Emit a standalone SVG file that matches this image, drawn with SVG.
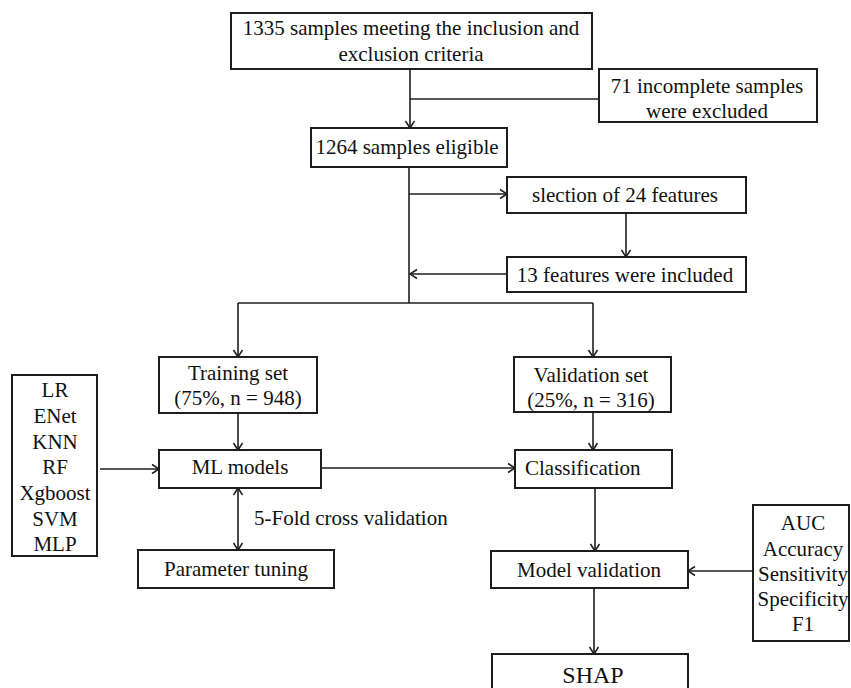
<svg xmlns="http://www.w3.org/2000/svg" width="851" height="688" viewBox="0 0 851 688">
<style>
.box{fill:#fff;stroke:#1e1e1e;stroke-width:2}
.t{font-family:"Liberation Serif","Times New Roman",serif;font-size:21px;fill:#111;text-anchor:middle}
.ln{fill:none;stroke:#1e1e1e;stroke-width:1.6}
</style>
<defs>
<marker id="ah" markerUnits="userSpaceOnUse" markerWidth="12" markerHeight="12" viewBox="0 0 12 12" refX="10" refY="6" orient="auto-start-reverse">
<path d="M3,1.5 L10,6 L3,10.5" fill="none" stroke="#1e1e1e" stroke-width="1.5"/>
</marker>
</defs>
<rect width="851" height="688" fill="#fff"/>
<g id="connectors">
<line class="ln" x1="410" y1="69" x2="410" y2="128" marker-end="url(#ah)"/>
<line class="ln" x1="410" y1="99" x2="599" y2="99"/>
<line class="ln" x1="409" y1="167" x2="409" y2="303"/>
<line class="ln" x1="409" y1="194" x2="507" y2="194" marker-end="url(#ah)"/>
<line class="ln" x1="626" y1="213" x2="626" y2="257" marker-end="url(#ah)"/>
<line class="ln" x1="507" y1="274" x2="410" y2="274" marker-end="url(#ah)"/>
<line class="ln" x1="238" y1="303" x2="593" y2="303"/>
<line class="ln" x1="238" y1="303" x2="238" y2="357" marker-end="url(#ah)"/>
<line class="ln" x1="593" y1="303" x2="593" y2="357" marker-end="url(#ah)"/>
<line class="ln" x1="238" y1="413" x2="238" y2="450" marker-end="url(#ah)"/>
<line class="ln" x1="593" y1="412" x2="593" y2="450" marker-end="url(#ah)"/>
<line class="ln" x1="100" y1="469" x2="159" y2="469" marker-end="url(#ah)"/>
<line class="ln" x1="321" y1="468" x2="515" y2="468" marker-end="url(#ah)"/>
<line class="ln" x1="238" y1="488" x2="238" y2="550" marker-start="url(#ah)" marker-end="url(#ah)"/>
<line class="ln" x1="595" y1="488" x2="595" y2="551" marker-end="url(#ah)"/>
<line class="ln" x1="753" y1="571" x2="688" y2="571" marker-end="url(#ah)"/>
<line class="ln" x1="594" y1="588" x2="594" y2="654" marker-end="url(#ah)"/>
<text class="t" x="254" y="525" style="text-anchor:start">5-Fold cross validation</text>
</g>
<g id="n-samples">
<rect class="box" x="231" y="13" width="361" height="56"/>
<text class="t" x="411" y="35">1335 samples meeting the inclusion and</text>
<text class="t" x="411" y="61">exclusion criteria</text>
</g>
<g id="n-excluded">
<rect class="box" x="599" y="69" width="218" height="53"/>
<text class="t" x="707" y="93">71 incomplete samples</text>
<text class="t" x="707" y="118">were excluded</text>
</g>
<g id="n-eligible">
<rect class="box" x="311" y="128" width="196" height="39"/>
<text class="t" x="407" y="154">1264 samples eligible</text>
</g>
<g id="n-selection">
<rect class="box" x="507" y="177" width="239" height="36"/>
<text class="t" x="625" y="202">slection of 24 features</text>
</g>
<g id="n-included">
<rect class="box" x="507" y="257" width="239" height="35"/>
<text class="t" x="625" y="282">13 features were included</text>
</g>
<g id="n-training">
<rect class="box" x="159" y="357" width="158" height="56"/>
<text class="t" x="238" y="380">Training set</text>
<text class="t" x="238" y="405">(75%, n = 948)</text>
</g>
<g id="n-validation">
<rect class="box" x="514" y="357" width="157" height="55"/>
<text class="t" x="591" y="382">Validation set</text>
<text class="t" x="591" y="407">(25%, n = 316)</text>
</g>
<g id="n-algorithms">
<rect class="box" x="12" y="375" width="85" height="181"/>
<text class="t" x="55" y="397">LR</text>
<text class="t" x="55" y="423">ENet</text>
<text class="t" x="55" y="449">KNN</text>
<text class="t" x="55" y="474">RF</text>
<text class="t" x="55" y="500">Xgboost</text>
<text class="t" x="55" y="526">SVM</text>
<text class="t" x="55" y="551">MLP</text>
</g>
<g id="n-ml">
<rect class="box" x="159" y="450" width="162" height="38"/>
<text class="t" x="240" y="474">ML models</text>
</g>
<g id="n-classification">
<rect class="box" x="515" y="450" width="157" height="38"/>
<text class="t" x="525" y="475" style="text-anchor:start">Classification</text>
</g>
<g id="n-tuning">
<rect class="box" x="138" y="550" width="196" height="38"/>
<text class="t" x="236" y="576">Parameter tuning</text>
</g>
<g id="n-modelval">
<rect class="box" x="491" y="551" width="197" height="37"/>
<text class="t" x="589" y="577">Model validation</text>
</g>
<g id="n-metrics">
<rect class="box" x="753" y="505" width="96" height="136"/>
<text class="t" x="803" y="530">AUC</text>
<text class="t" x="803" y="556">Accuracy</text>
<text class="t" x="803" y="581">Sensitivity</text>
<text class="t" x="803" y="606">Specificity</text>
<text class="t" x="803" y="631">F1</text>
</g>
<g id="n-shap">
<rect class="box" x="492" y="654" width="196" height="50"/>
<text class="t" x="593" y="683" style="font-size:24px">SHAP</text>
</g>
</svg>
